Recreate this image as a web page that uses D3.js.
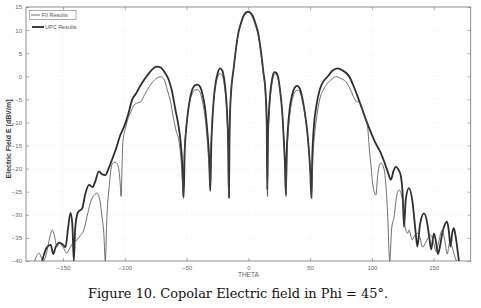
<!DOCTYPE html>
<html>
<head>
  <meta charset="utf-8">
  <title>Copolar Electric field</title>
  <script src="https://cdn.jsdelivr.net/npm/d3@7"></script>
  <style>
    body { margin: 0; background: #fff; }
    .tick text { font-family: Arial, "Liberation Sans", sans-serif; font-size: 6px; fill: #666; }
    .tick line { stroke: #777; stroke-width: 0.6; }
  </style>
</head>
<body>
  <svg width="481" height="308" id="mainsvg"></svg>
  <script>
    const svg = d3.select('#mainsvg');
    const margin = { top: 7, right: 10.3, bottom: 47, left: 26 };
    const innerWidth = 481 - margin.left - margin.right;
    const innerHeight = 308 - margin.top - margin.bottom;

    // tick labels
    const xTicks = [-150, -100, -50, 0, 50, 100, 150];
    const yTicks = [-40, -35, -30, -25, -20, -15, -10, -5, 0, 5, 10, 15];
    const seriesNames = ['FII Results', 'UPC Results'];

    // UPC results (thick line), [theta, dB]
    const upcTheta = [-167, -163, -160, -158, -156, -153, -150, -148, -146, -144, -142.5, -141.3, -140.2, -138, -136, -134.5, -132, -129, -126, -124, -121, -118.5, -115.8, -113, -110, -107, -104, -100.6, -97, -94, -91, -88, -84.5, -80, -76, -73.7, -71, -68, -64.4, -62, -59, -57, -55, -53.5, -52.4,
      -51.5, -50.5, -49, -47, -45, -43, -41, -39, -37, -35, -33.5, -32.3, -31.5, -30.8,
      -30, -29, -28, -26.5, -25, -23, -21, -19.5, -18, -17, -16.3, -15.7,
      -15.3, -14.8, -14, -12, -10, -8, -6, -4, -2, 0, 2, 4, 6, 8, 10, 12, 14, 14.8, 15.3,
      15.8, 16.6, 17.8, 19.3, 21, 22.8, 24.5, 26, 27.5, 28.7, 29.6, 30.3,
      31, 32, 33.5, 35.5, 37.5, 39.5, 41.5, 43.5, 45.5, 47.5, 49, 50.2, 51,
      51.8, 53, 55, 57.7, 61, 64.4, 68, 72.4, 76, 81.8, 85, 88.5, 92, 95.3, 99, 103, 107, 110, 113, 115.4, 117.5, 119.4, 121.5, 123.4, 125, 126, 127.5, 130, 132.7, 135.5, 136.8, 139, 142.2, 144.8, 146.5, 148, 150.2, 152, 153.5, 155, 157, 160.9, 162.5, 163.6, 165, 166.3, 168, 169.5, 170.5];
    const upcValues = [-40, -37, -36.5, -38.5, -37, -36, -36.5, -37, -33, -29.6, -32, -40, -33, -29.5, -29, -28.6, -25.5, -23.5, -24, -22.8, -20.6, -21.2, -21.4, -19.9, -17.8, -15.6, -13, -10.9, -8, -5, -3.8, -2.3, -0.8, 0.8, 1.9, 2.1, 1.9, 1, -0.8, -3, -7.3, -10, -13.8, -19, -26.3,
      -16, -12, -8, -4.5, -2.6, -1.9, -1.8, -2.3, -4, -7, -11, -15, -19, -24.8,
      -15, -9, -5, -1.5, 0.5, 1.7, 1.2, -0.8, -4.5, -9, -15, -26.3,
      -15, -8, -3.5, 1.5, 6, 9.5, 11.5, 13, 13.8, 14, 13.7, 12.8, 11.2, 9.3, 5.8, 1.3, -3.8, -9, -24.6,
      -14, -8, -3.5, -0.5, 0.9, 0.7, -0.8, -3.8, -8, -13.8, -19, -25.5,
      -17, -11.5, -7, -4, -2.5, -2.1, -2.6, -4.5, -7.5, -11.5, -16, -21, -26.3,
      -17, -11, -6.5, -3, -1, 0, 1.2, 1.7, 1.3, -0.1, -2, -4.4, -7, -9.5, -12, -14.5, -16.5, -18.5, -20.8, -22.4, -20.5, -19.6, -20.2, -21.5, -26, -32.6, -26.5, -24.2, -26.8, -34, -36.9, -32, -29.7, -31.8, -35, -37.5, -34, -36, -38.5, -37, -34, -31.5, -34, -36.9, -34, -32.9, -35, -38, -40];

    // FII results (thin line), [theta, dB]
    const fiiTheta = [-173, -169.5, -166, -162.8, -160.5, -158.7, -157, -155, -153.3, -150, -147, -145.3, -143, -140.5, -138.6, -136, -133.2, -130.6, -128, -125, -122.5, -120.5, -118.5, -117, -115.8, -114.5, -112.5, -110.5, -108.5, -107, -105, -103.8, -103, -102.2, -101.5, -99.5, -97.8, -95, -92.5, -90, -87.1, -84, -80.4, -76, -71, -68, -65.6, -63, -60.3, -58.3, -56.3, -54.5, -53.5, -52.8,
      -52, -51, -49.5, -47.5, -45.5, -43.5, -41.5, -39.5, -37.5, -35.5, -34, -32.7, -31.8, -31.2,
      -30.4, -29.4, -28.3, -26.8, -25.2, -23, -21, -19.5, -18.2, -17.2, -16.5, -16,
      -15.6, -15, -14.2, -12.2, -10.2, -8, -6, -4, -2, 0, 2, 4, 6, 8, 10, 12, 13.8, 14.6, 15, 15.5,
      16.1, 17, 18.2, 19.7, 21.3, 23, 24.7, 26.2, 27.6, 28.8, 29.8, 30.6,
      31.3, 32.3, 33.8, 35.8, 37.8, 39.8, 41.8, 43.8, 45.8, 47.7, 49.3, 50.4, 51.3,
      52.2, 53.5, 55.5, 57.7, 61, 64.4, 68, 71, 75, 79, 82.5, 85.8, 88, 89.9, 91.5, 93.9, 96.5, 97.9, 99.5, 100.6, 103.3, 104.5, 105.8, 107.3, 110, 112.6, 114.5, 116, 118, 120, 122, 124.7, 127.4, 129, 130, 132.7, 134.5, 136.8, 139, 141, 143.5, 145.5, 147.5, 150, 152, 154, 156.9, 159, 161, 163, 165, 167, 168.5];
    const fiiValues = [-40, -38.3, -40, -37.6, -34.5, -33.3, -34.5, -37, -36.1, -37, -38.3, -37.6, -36.5, -35.8, -35.4, -34.5, -33.3, -30.4, -27.5, -25.8, -25.3, -26.5, -30.4, -34, -40, -30.4, -23.5, -19.2, -18.6, -18.7, -20, -23, -26, -19, -14, -11.3, -9.5, -7.6, -6.2, -5.8, -5.5, -4, -2.3, -0.8, -0.1, -0.8, -3, -5.5, -9.5, -12, -13.8, -18, -22, -26,
      -18, -13, -9, -5.5, -3.8, -3, -2.9, -3.3, -5, -8, -11.5, -16, -20, -24,
      -16, -10, -6, -2.5, -0.5, 0.6, 0.1, -1.8, -5, -9.5, -15, -26,
      -14, -8.5, -4, 1, 5.5, 9.2, 11.3, 12.8, 13.6, 13.8, 13.4, 12.4, 10.8, 8.8, 5.3, 0.8, -4.2, -9.5, -16, -26,
      -13, -7.5, -3.5, -0.8, 0.5, 0.3, -1.3, -4.2, -8.5, -14, -19.5, -26,
      -17, -12, -7.8, -4.8, -3.3, -3, -3.5, -5.3, -8.3, -12, -17, -22, -26.5,
      -18, -13, -8.5, -5.1, -2.8, -1.4, -0.5, -0.1, -0.5, -1.2, -2.8, -4.8, -5.6, -5.5, -6.5, -8.7, -10.9, -15.6, -20, -23.2, -25.7, -22, -19.5, -18.8, -20.3, -29, -40, -33, -30.4, -26, -24.6, -26.8, -33.3, -34, -33.3, -35.4, -34.5, -34, -35, -37, -36, -35, -34.4, -36, -38, -36, -33.3, -35.5, -38.5, -36, -37, -39, -40];

    const xScale = d3.scaleLinear().domain([-180, 180]).range([0, innerWidth]);
    const yScale = d3.scaleLinear().domain([-40, 15]).range([innerHeight, 0]);

    const g = svg.append('g')
      .attr('transform', `translate(${margin.left}, ${margin.top})`);

    // faint dotted grid
    g.append('g').selectAll('line').data(xTicks).join('line')
      .attr('x1', d => xScale(d)).attr('x2', d => xScale(d))
      .attr('y1', 0).attr('y2', innerHeight)
      .attr('stroke', '#e6e6e6').attr('stroke-width', 0.6).attr('stroke-dasharray', '1,3');
    g.append('g').selectAll('line').data(yTicks).join('line')
      .attr('y1', d => yScale(d)).attr('y2', d => yScale(d))
      .attr('x1', 0).attr('x2', innerWidth)
      .attr('stroke', '#e6e6e6').attr('stroke-width', 0.6).attr('stroke-dasharray', '1,3');

    // axes, ticks pointing inward like matlab
    const xAxis = d3.axisBottom(xScale).tickValues(xTicks).tickSize(-3).tickPadding(5);
    const yAxis = d3.axisLeft(yScale).tickValues(yTicks).tickSize(-3).tickPadding(4);
    const xAxisTop = d3.axisTop(xScale).tickValues(xTicks).tickSize(-3).tickFormat('');
    const yAxisRight = d3.axisRight(yScale).tickValues(yTicks).tickSize(-3).tickFormat('');

    g.append('g').attr('transform', `translate(0, ${innerHeight})`).call(xAxis);
    g.append('g').call(yAxis);
    g.append('g').call(xAxisTop).selectAll('text').remove();
    g.append('g').attr('transform', `translate(${innerWidth}, 0)`).call(yAxisRight).selectAll('text').remove();
    g.selectAll('.domain').remove();

    g.append('rect')
      .attr('width', innerWidth).attr('height', innerHeight)
      .attr('fill', 'none').attr('stroke', '#777').attr('stroke-width', 0.8);

    // clip curves to plot box
    svg.append('defs').append('clipPath').attr('id', 'clip')
      .append('rect').attr('width', innerWidth).attr('height', innerHeight);

    const line = d3.line()
      .x(d => xScale(d[0]))
      .y(d => yScale(d[1]))
      .curve(d3.curveMonotoneX);

    const upc = d3.zip(upcTheta, upcValues);
    const fii = d3.zip(fiiTheta, fiiValues);

    const curves = g.append('g').attr('clip-path', 'url(#clip)');
    curves.append('path').datum(upc)
      .attr('d', line).attr('fill', 'none')
      .attr('stroke', '#2e2e2e').attr('stroke-width', 1.8).attr('stroke-linejoin', 'round');
    curves.append('path').datum(fii)
      .attr('d', line).attr('fill', 'none')
      .attr('stroke', '#4a4a4a').attr('stroke-width', 0.8).attr('stroke-linejoin', 'round');

    // legend
    const legend = svg.append('g').attr('font-family', 'Arial, "Liberation Sans", sans-serif').attr('font-size', 5.5);
    legend.append('rect')
      .attr('x', 29.5).attr('y', 10.5).attr('width', 46.5).attr('height', 9)
      .attr('fill', '#fff').attr('stroke', '#777').attr('stroke-width', 0.6);
    legend.append('line').attr('x1', 31).attr('x2', 40).attr('y1', 15).attr('y2', 15)
      .attr('stroke', '#4a4a4a').attr('stroke-width', 0.8);
    legend.append('text').attr('x', 41.5).attr('y', 17).attr('fill', '#555').text(seriesNames[0]);
    legend.append('line').attr('x1', 32).attr('x2', 44).attr('y1', 27).attr('y2', 27)
      .attr('stroke', '#262626').attr('stroke-width', 1.8);
    legend.append('text').attr('x', 45).attr('y', 29).attr('fill', '#555').text(seriesNames[1]);

    // axis labels
    svg.append('text')
      .attr('transform', `translate(11, ${margin.top + innerHeight / 2 + 5}) rotate(-90)`)
      .attr('text-anchor', 'middle')
      .attr('font-family', 'Arial, "Liberation Sans", sans-serif')
      .attr('font-size', 7).attr('font-weight', 'bold').attr('fill', '#333')
      .text('Electric Field E [dBV/m]');

    svg.append('text')
      .attr('x', margin.left + xScale(0)).attr('y', 277)
      .attr('text-anchor', 'middle')
      .attr('font-family', 'Arial, "Liberation Sans", sans-serif')
      .attr('font-size', 6.5).attr('fill', '#666')
      .text('THETA');

    // caption
    svg.append('text')
      .attr('x', 88).attr('y', 298)
      .attr('font-family', '"DejaVu Serif", "Liberation Serif", serif')
      .attr('font-size', 12).attr('fill', '#111')
      .attr('textLength', 300).attr('lengthAdjust', 'spacingAndGlyphs')
      .text('Figure 10. Copolar Electric field in Phi = 45°.');
  </script>
</body>
</html>
